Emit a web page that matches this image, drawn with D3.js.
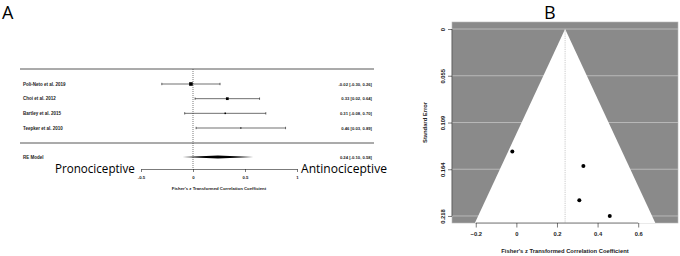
<!DOCTYPE html>
<html>
<head>
<meta charset="utf-8">
<script src="https://cdn.jsdelivr.net/npm/d3@7"></script>
<style>
  html, body { margin: 0; padding: 0; background: #fff; }
  svg { display: block; font-family: "Liberation Sans", Arial, sans-serif; }
</style>
</head>
<body>
<svg id="fig" width="680" height="256"></svg>
<script>
// ----- Data -----
const studies    = ["Poli-Neto et al. 2019", "Choi et al. 2012", "Bartley et al. 2015", "Teepker et al. 2010"];
const estimates  = [-0.02, 0.33, 0.31, 0.46];
const ciLower    = [-0.30, 0.02, -0.08, 0.03];
const ciUpper    = [0.26, 0.64, 0.70, 0.89];
const stdErrors  = [0.143, 0.160, 0.200, 0.2185];

const reLabel    = "RE Model";
const reEstimate = 0.24;
const reLower    = -0.10;
const reUpper    = 0.58;

const forestTicks      = [-0.5, 0, 0.5, 1];
const funnelXTicks     = [-0.2, 0, 0.2, 0.4, 0.6];
const funnelYTicks     = [0, 0.0546, 0.1093, 0.1639, 0.2185];
const funnelYTickText  = ["0", "0.055", "0.109", "0.164", "0.218"];

const xTitle = "Fisher's z Transformed Correlation Coefficient";

const fmt2 = d => (d < 0 ? "-" : "") + Math.abs(d).toFixed(2);

const svg = d3.select("#fig");

// squeeze a text horizontally so it spans `width` px, anchored at x
function squeezeText(sel, x, y, width, anchor) {
  const natural = sel.node().getComputedTextLength();
  const k = width / natural;
  const x0 = anchor === "end" ? x - width : x;
  sel.attr("x", 0).attr("y", 0)
    .attr("text-anchor", "start")
    .attr("transform", `translate(${x0},${y}) scale(${k},1)`);
}

// ---------- Panel A : forest plot ----------
const gA = svg.append("g");

gA.append("text")
  .attr("x", 2).attr("y", 19)
  .attr("font-family", "'Open Sans', sans-serif")
  .attr("font-size", 18)
  .text("A");

const xA = d3.scaleLinear().domain([-0.5, 1]).range([141, 297]);
const yA = d3.scaleLinear().domain([0, studies.length - 1]).range([84, 128]);
const yRE = 157;
const axisYA = 169;

// horizontal rules
[69, 143].forEach(yy => {
  gA.append("line")
    .attr("x1", 20).attr("x2", 374)
    .attr("y1", yy).attr("y2", yy)
    .attr("stroke", "#444").attr("stroke-width", 0.9);
});

// reference line at 0
gA.append("line")
  .attr("x1", xA(0)).attr("x2", xA(0))
  .attr("y1", 69).attr("y2", axisYA)
  .attr("stroke", "#222").attr("stroke-width", 0.6)
  .attr("stroke-dasharray", "1,1");

const rows = studies.map((s, i) => ({
  study: s, est: estimates[i], lo: ciLower[i], hi: ciUpper[i], se: stdErrors[i], i
}));

const weightSize = d3.scaleLinear()
  .domain(d3.extent(rows, d => 1 / (d.se * d.se)))
  .range([1.2, 3.6]);

// CI lines
gA.selectAll(".ci")
  .data(rows).enter().append("line")
  .attr("x1", d => xA(d.lo)).attr("x2", d => xA(d.hi))
  .attr("y1", d => yA(d.i)).attr("y2", d => yA(d.i))
  .attr("stroke", "#111").attr("stroke-width", 0.6);

// CI end caps
rows.forEach(d => {
  [d.lo, d.hi].forEach(v => {
    gA.append("line")
      .attr("x1", xA(v)).attr("x2", xA(v))
      .attr("y1", yA(d.i) - 1.2).attr("y2", yA(d.i) + 1.2)
      .attr("stroke", "#111").attr("stroke-width", 0.6);
  });
});

// weight squares
gA.selectAll(".sq")
  .data(rows).enter().append("rect")
  .attr("x", d => xA(d.est) - weightSize(1 / (d.se * d.se)) / 2)
  .attr("y", d => yA(d.i) - weightSize(1 / (d.se * d.se)) / 2)
  .attr("width", d => weightSize(1 / (d.se * d.se)))
  .attr("height", d => weightSize(1 / (d.se * d.se)))
  .attr("fill", "#000");

// study labels
gA.selectAll(".lab")
  .data(rows).enter().append("text")
  .attr("x", 23).attr("y", d => yA(d.i) + 1.6)
  .attr("font-size", 4.5).attr("font-weight", "bold")
  .attr("fill", "#222")
  .text(d => d.study);

// effect labels
gA.selectAll(".eff")
  .data(rows).enter().append("text")
  .attr("x", 372).attr("y", d => yA(d.i) + 1.5)
  .attr("text-anchor", "end")
  .attr("font-size", 4.2).attr("font-weight", "bold")
  .attr("fill", "#222")
  .text(d => `${fmt2(d.est)} [${fmt2(d.lo)}, ${fmt2(d.hi)}]`);

// RE model
gA.append("text")
  .attr("x", 23).attr("y", yRE + 1.6)
  .attr("font-size", 4.5).attr("font-weight", "bold")
  .attr("fill", "#222")
  .text(reLabel);

gA.append("text")
  .attr("x", 372).attr("y", yRE + 1.5)
  .attr("text-anchor", "end")
  .attr("font-size", 4.2).attr("font-weight", "bold")
  .attr("fill", "#222")
  .text(`${fmt2(reEstimate)} [${fmt2(reLower)}, ${fmt2(reUpper)}]`);

gA.append("path")
  .attr("d", `M${xA(reLower)},${yRE} L${xA(reEstimate)},${yRE - 1.6} L${xA(reUpper)},${yRE} L${xA(reEstimate)},${yRE + 1.6} Z`)
  .attr("fill", "#000");

// axis
const axA = gA.append("g")
  .attr("transform", `translate(0,${axisYA})`)
  .call(d3.axisBottom(xA).tickValues(forestTicks).tickSize(3).tickSizeOuter(0)
    .tickFormat(d => String(d)));
axA.select(".domain").attr("stroke", "#222").attr("stroke-width", 0.6);
axA.selectAll(".tick line").attr("stroke", "#222").attr("stroke-width", 0.6);
axA.selectAll(".tick text")
  .attr("y", 6.5)
  .attr("font-size", 4.3).attr("font-weight", "bold")
  .attr("font-family", "'Liberation Sans', Arial, sans-serif")
  .attr("fill", "#222");

gA.append("text")
  .attr("x", xA(0.25)).attr("y", 189.5)
  .attr("text-anchor", "middle")
  .attr("font-size", 4.3).attr("font-weight", "bold")
  .attr("fill", "#222")
  .text(xTitle);

const pro = gA.append("text")
  .attr("font-family", "'Open Sans', sans-serif")
  .attr("font-size", 13.5)
  .text("Pronociceptive");
squeezeText(pro, 135, 173, 80, "end");

const anti = gA.append("text")
  .attr("font-family", "'Open Sans', sans-serif")
  .attr("font-size", 13.5)
  .text("Antinociceptive");
squeezeText(anti, 301, 173, 86, "start");

// ---------- Panel B : funnel plot ----------
const gB = svg.append("g");

gB.append("text")
  .attr("x", 544).attr("y", 19)
  .attr("font-family", "'Open Sans', sans-serif")
  .attr("font-size", 18)
  .text("B");

const xB = d3.scaleLinear().domain([-0.317, 0.796]).range([452, 678]);
const yB = d3.scaleLinear().domain([-0.0082, 0.2267]).range([22, 223]);
const seTop = yB.domain()[0];
const seBottom = yB.domain()[1];

// plot background
gB.append("rect")
  .attr("x", xB(-0.317)).attr("y", yB(seTop))
  .attr("width", xB(0.796) - xB(-0.317))
  .attr("height", yB(seBottom) - yB(seTop))
  .attr("fill", "#8a8a8a")
  .attr("stroke", "#b8b8b8").attr("stroke-width", 0.6);

// gridlines
gB.selectAll(".grid")
  .data(funnelYTicks).enter().append("line")
  .attr("x1", xB(-0.317)).attr("x2", xB(0.796))
  .attr("y1", d => yB(d)).attr("y2", d => yB(d))
  .attr("stroke", "#c4c4c4").attr("stroke-width", 0.8);

// funnel
const funnelPts = [
  [reEstimate - 1.96 * seBottom, seBottom],
  [reEstimate, 0],
  [reEstimate + 1.96 * seBottom, seBottom]
];
gB.append("path")
  .attr("d", d3.line().x(d => xB(d[0])).y(d => yB(d[1]))(funnelPts) + "Z")
  .attr("fill", "#fff");

gB.append("line")
  .attr("x1", xB(reEstimate)).attr("x2", xB(reEstimate))
  .attr("y1", yB(0)).attr("y2", yB(seBottom))
  .attr("stroke", "#bdbdbd").attr("stroke-width", 0.8)
  .attr("stroke-dasharray", "1.2,1");

// points
gB.selectAll(".pt")
  .data(rows).enter().append("circle")
  .attr("cx", d => xB(d.est)).attr("cy", d => yB(d.se))
  .attr("r", 2)
  .attr("fill", "#000");

// x axis
const axBx = gB.append("g")
  .attr("transform", `translate(0,${yB(seBottom)})`)
  .call(d3.axisBottom(xB).tickValues(funnelXTicks).tickSize(4.5)
    .tickFormat(d => d === 0 ? "0" : (d < 0 ? "\u2212" : "") + Math.abs(d).toFixed(1)));
axBx.select(".domain")
  .attr("d", `M${xB(funnelXTicks[0])},0H${xB(funnelXTicks[funnelXTicks.length - 1])}`)
  .attr("stroke", "#222").attr("stroke-width", 0.6);
axBx.selectAll(".tick line").attr("stroke", "#222").attr("stroke-width", 0.6);
axBx.selectAll(".tick text")
  .attr("y", 9)
  .attr("font-size", 5.8).attr("font-weight", "bold")
  .attr("font-family", "'Liberation Sans', Arial, sans-serif")
  .attr("fill", "#222");

gB.append("text")
  .attr("x", (xB(-0.317) + xB(0.796)) / 2).attr("y", 252.5)
  .attr("text-anchor", "middle")
  .attr("font-size", 5.8).attr("font-weight", "bold")
  .attr("fill", "#222")
  .text(xTitle);

// y axis
const axBy = gB.append("g")
  .attr("transform", `translate(${xB(-0.317)},0)`)
  .call(d3.axisLeft(yB).tickValues(funnelYTicks).tickSize(4)
    .tickFormat((d, i) => funnelYTickText[i]));
axBy.select(".domain")
  .attr("d", `M0,${yB(funnelYTicks[0])}V${yB(funnelYTicks[funnelYTicks.length - 1])}`)
  .attr("stroke", "#222").attr("stroke-width", 0.6);
axBy.selectAll(".tick line").attr("stroke", "#222").attr("stroke-width", 0.6);
axBy.selectAll(".tick text")
  .attr("x", null).attr("dy", null)
  .attr("transform", "translate(-9,0) rotate(-90)")
  .attr("text-anchor", "middle")
  .attr("dominant-baseline", "central")
  .attr("font-size", 5.8).attr("font-weight", "bold")
  .attr("font-family", "'Liberation Sans', Arial, sans-serif")
  .attr("fill", "#222");

gB.append("text")
  .attr("transform", `translate(427,${(yB(seTop) + yB(seBottom)) / 2}) rotate(-90)`)
  .attr("text-anchor", "middle")
  .attr("font-size", 5.8).attr("font-weight", "bold")
  .attr("fill", "#222")
  .text("Standard Error");
</script>
</body>
</html>
